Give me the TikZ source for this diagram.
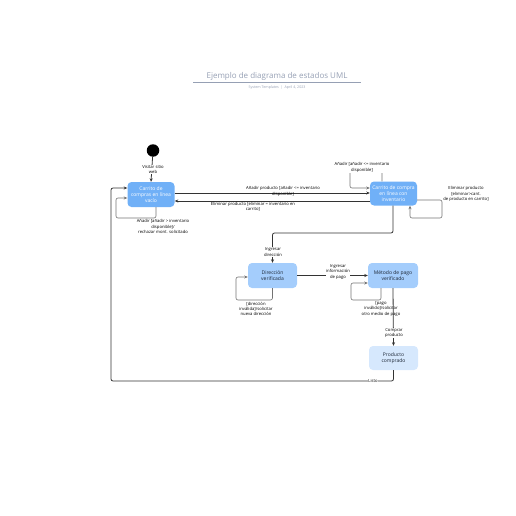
\documentclass[tikz,border=0pt]{standalone}
\usepackage{fontspec}
\setmainfont{Open Sans}
\usetikzlibrary{arrows.meta}
\definecolor{boxA}{RGB}{112,176,247}
\definecolor{boxB}{RGB}{164,205,252}
\definecolor{boxC}{RGB}{214,232,253}
\definecolor{titlec}{RGB}{150,160,180}
\definecolor{inkc}{RGB}{30,40,55}
\tikzset{
  stbox/.style={rounded corners=4pt, draw=none, align=center, inner sep=0pt, font=\fontsize{5}{6}\selectfont},
  darkbox/.style={stbox, fill=boxA, text=white},
  lightbox/.style={stbox, fill=boxB, text=inkc},
  paleBox/.style={stbox, fill=boxC, text=inkc},
  conn/.style={draw=black!80, line width=0.8pt, -{Stealth[length=3.5pt,width=3pt]}},
  loopc/.style={draw=black!55, line width=0.6pt, rounded corners=2pt, -{Stealth[length=3.5pt,width=3pt]}},
  lbl/.style={font=\fontsize{4.2}{5.4}\selectfont, align=center, inner sep=0.5pt, text=black},
  lblw/.style={lbl, fill=white},
}
\begin{document}
\begin{tikzpicture}[x=1pt,y=-1pt]
\useasboundingbox (0,0) rectangle (516,516);
% title
\node[font=\fontsize{8}{9}\selectfont, text=titlec] (title) at (277,76) {Ejemplo de diagrama de estados UML};
\draw[titlec, line width=0.6pt] (193,82.5) -- (361,82.5);
\node[font=\fontsize{3.6}{4}\selectfont, text=titlec] (sub) at (277,88) {System Templates \ | \ April 4, 2023};
% states
\node[circle, fill=black, minimum size=12.5pt, inner sep=0pt] (start) at (153,150.5) {};
\node[darkbox, minimum width=47pt, minimum height=25pt] (b1) at (151,194.5) {Carrito de\\compras en línea\\vacío};
\node[darkbox, minimum width=47pt, minimum height=24pt] (b2) at (393.5,193.5) {Carrito de compra\\en línea con\\inventario};
\node[lightbox, minimum width=49pt, minimum height=25pt] (b3) at (272.5,275.5) {Dirección\\verificada};
\node[lightbox, minimum width=50pt, minimum height=25pt] (b4) at (393,275.5) {Método de pago\\verificado};
\node[paleBox, minimum width=49pt, minimum height=24pt] (b5) at (393.5,358) {Producto\\comprado};
% helper coordinates
\coordinate (r1) at (0,193);
\coordinate (r2) at (0,201);
\coordinate (p1a) at (156,218);
\coordinate (p1b) at (116,198);
\coordinate (p2a) at (382,169);
\coordinate (p2b) at (350,188);
\coordinate (p3a) at (442,200);
\coordinate (p3b) at (410,218);
\coordinate (c1) at (393,233);
\coordinate (p4a) at (272.5,300);
\coordinate (p4b) at (236,277);
\coordinate (p5a) at (381,300);
\coordinate (p5b) at (351,283);
\coordinate (oc) at (111,381);
\coordinate (oe) at (111,188);
% connectors
\draw[conn] (start) -- (b1.north);
\node[lblw] (l0) at (153,169.5) {Visitar sitio\\web};
\draw[conn] (b1.east |- r1) -- (b2.west |- r1);
\node[lbl] (l1) at (283,191.5) {Añadir producto [añadir <= inventario\\disponible]};
\draw[conn] (b2.west |- r2) -- (b1.east |- r2);
\node[lbl] (l2) at (253,207) {Eliminar producto [eliminar = inventario en\\carrito]};
\draw[loopc] (b1.south -| p1a) -- (p1a) -| (p1b) -- (b1.west |- p1b);
\node[lbl] (l3) at (163,226.5) {Añadir [añadir > inventario\\disponible]/\\rechazar mont. solicitado};
\draw[loopc] (b2.north -| p2a) -- (p2a) -| (p2b) -- (b2.west |- p2b);
\node[lblw] (l4) at (362,167.5) {Añadir [añadir <= inventario\\disponible]};
\draw[loopc] (b2.east |- p3a) -- (p3a) |- (p3b) -- (b2.south -| p3b);
\node[lblw] (l5) at (466,194) {Eliminar producto\\{}[eliminar>cant.\\de producto en carrito]};
\draw[conn, rounded corners=2pt] (b2.south -| c1) -- (c1) -| (b3.north);
\node[lblw] (l6) at (273,252) {Ingresar\\dirección};
\draw[loopc] (b3.south) -- (p4a) -| (p4b) -- (b3.west |- p4b);
\node[lbl] (l7) at (256,309) {{}[dirección\\inválida]/solicitar\\nueva dirección};
\draw[conn] (b3.east) -- (b4.west);
\node[lblw] (l8) at (338,272) {Ingresar\\información\\de pago};
\draw[loopc] (b4.south -| p5a) -- (p5a) -| (p5b) -- (b4.west |- p5b);
\node[lbl] (l9) at (381,309) {{}[pago\\inválido]/solicitar\\otro medio de pago};
\draw[conn] (b4.south) -- (b5.north);
\node[lblw] (l10) at (394,333) {Comprar\\producto};
\draw[conn, rounded corners=2pt] (b5.south) |- (oc) -- (oe) -- (b1.west |- oe);
\node[lblw] (l11) at (373,381) {Listo};
\end{tikzpicture}
\end{document}
